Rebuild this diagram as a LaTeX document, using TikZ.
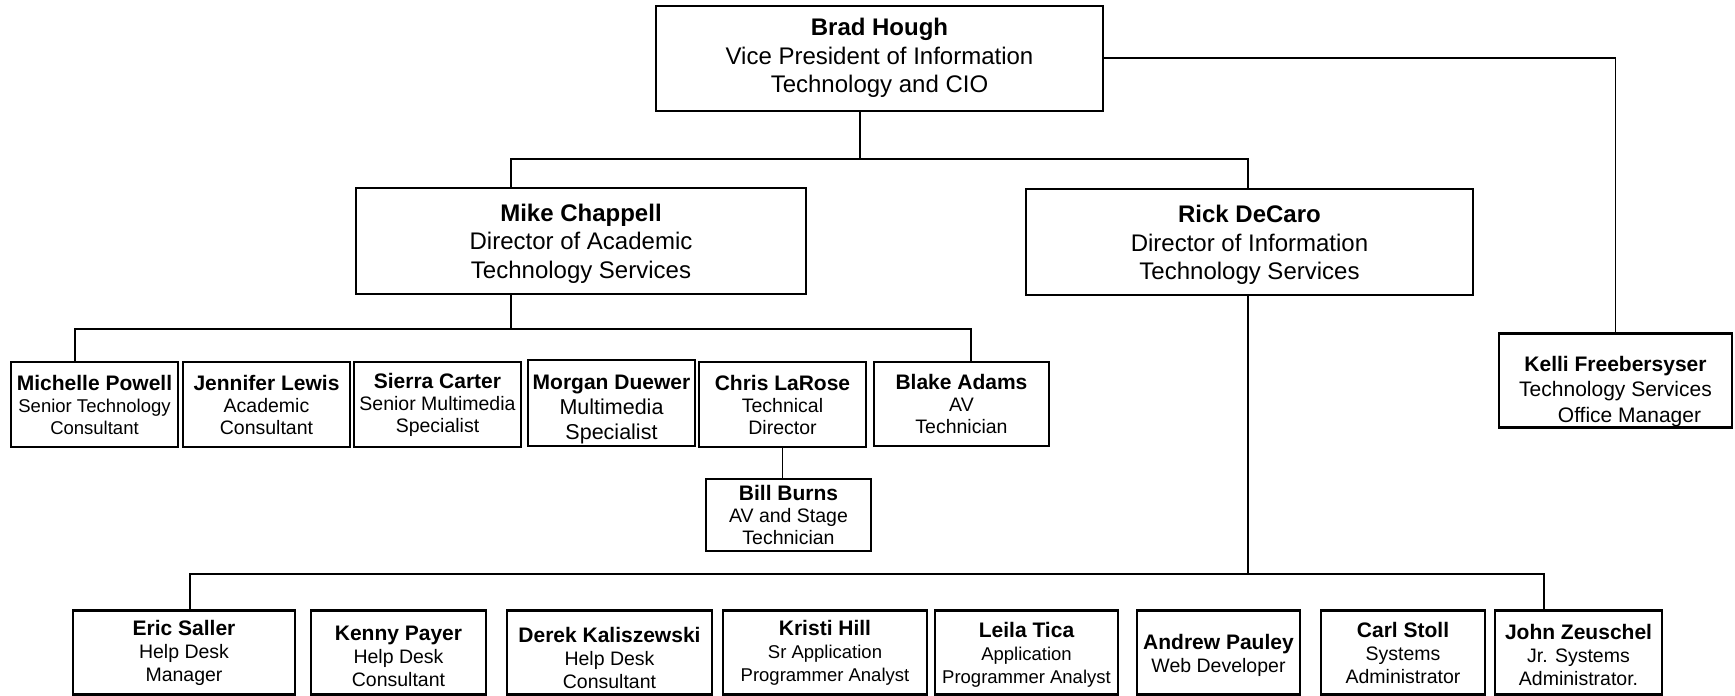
\documentclass[tikz,border=0pt]{standalone}
\usepackage{fontspec}
\setmainfont{Liberation Sans}
\newcommand{\staffname}[1]{{\fontsize{21}{22}\selectfont\bfseries #1}}
\newcommand{\padtop}[1]{\rule{0pt}{#1}}

\begin{document}
\begin{tikzpicture}[x=1pt, y=-1pt,
    headbox/.style={draw, line width=2pt, align=center, minimum height=106, inner sep=2pt, font=\fontsize{24}{28.5}\selectfont},
    staffbox/.style={draw, line width=2.6pt, align=center, minimum height=85, inner sep=1pt, font=\fontsize{19.5}{22}\selectfont},
    lowbox/.style={staffbox, minimum height=84, font=\fontsize{19.5}{23}\selectfont},
    link/.style={line width=1.6pt}]
    \useasboundingbox (0,0) rectangle (1735,696);

    % Top of the chart
    \node[headbox, minimum width=447, minimum height=105] (brad) at (879.5,58) {\textbf{Brad Hough}\\Vice President of Information\\Technology and CIO};
    \node[headbox, minimum width=450] (mike) at (581,241) {\padtop{22pt}\textbf{Mike Chappell}\\Director of Academic\\Technology Services};
    \node[headbox, minimum width=447] (rick) at (1249.5,241.5) {\padtop{24pt}\textbf{Rick DeCaro}\\Director of Information\\Technology Services};
    \node[staffbox, minimum width=233, minimum height=93, font=\fontsize{21}{25.4}\selectfont] (kelli) at (1615.5,380.5) {\padtop{37pt}\staffname{Kelli Freebersyser}\\Technology Services\\\hspace*{28pt}Office Manager};

    % Academic technology services
    \node[staffbox, minimum width=167, font=\fontsize{18.5}{22}\selectfont] (michelle) at (94.5,404.5) {\staffname{Michelle Powell}\\Senior Technology\\Consultant};
    \node[staffbox, minimum width=167] (jennifer) at (266.5,404.5) {\staffname{Jennifer Lewis}\\Academic\\Consultant};
    \node[staffbox, minimum width=167] (sierra) at (437.5,404.5) {\staffname{Sierra Carter}\\Senior Multimedia\\Specialist};
    \node[staffbox, minimum width=167, minimum height=86, font=\fontsize{21.5}{25}\selectfont] (morgan) at (611.5,403) {\padtop{28pt}\staffname{Morgan Duewer}\\Multimedia\\Specialist};
    \node[staffbox, minimum width=167] (chris) at (782.5,404.5) {\staffname{Chris LaRose}\\Technical\\Director};
    \node[staffbox, minimum width=175, minimum height=84] (blake) at (961.5,404) {\staffname{Blake Adams}\\AV\\Technician};
    \node[staffbox, minimum width=165, minimum height=72, font=\fontsize{19.5}{21.6}\selectfont] (bill) at (788.5,515) {\staffname{Bill Burns}\\AV and Stage\\Technician};

    % Information technology services
    \node[lowbox, minimum width=222] (eric) at (184,652.5) {\staffname{Eric Saller}\\Help Desk\\Manager};
    \node[lowbox, minimum width=175] (kenny) at (398.5,652.5) {\padtop{22pt}\staffname{Kenny Payer}\\Help Desk\\Consultant};
    \node[lowbox, minimum width=205] (derek) at (609.5,652.5) {\padtop{27pt}\staffname{Derek Kaliszewski}\\Help Desk\\Consultant};
    \node[lowbox, minimum width=204, font=\fontsize{18.5}{23}\selectfont] (kristi) at (825,652.5) {\staffname{Kristi Hill}\\Sr Application\\Programmer Analyst};
    \node[lowbox, minimum width=183, font=\fontsize{18.5}{23}\selectfont] (leila) at (1026.5,652.5) {\padtop{19pt}\staffname{Leila Tica}\\Application\\Programmer Analyst};
    \node[lowbox, minimum width=163] (andrew) at (1218.5,652.5) {\padtop{22pt}\staffname{Andrew Pauley}\\Web Developer};
    \node[lowbox, minimum width=164] (carl) at (1403,652.5) {\staffname{Carl Stoll}\\Systems\\Administrator};
    \node[lowbox, minimum width=167] (john) at (1578.5,652.5) {\padtop{21pt}\staffname{John Zeuschel}\\Jr. Systems\\Administrator.};

    % Joints of the lines
    \coordinate (vp) at (860,159);
    \coordinate (vpl) at (511,159);
    \coordinate (vpr) at (1248,159);
    \coordinate (ats) at (511,329);
    \coordinate (atsl) at (75,329);
    \coordinate (atsr) at (971,329);
    \coordinate (its) at (1248,574);
    \coordinate (itsl) at (190,574);
    \coordinate (itsr) at (1544,574);

    % Lines
    \draw[link] (brad.south -| vp) -- (vp);
    \draw[link] (mike.north -| vpl) -- (vpl) -- (vpr) -- (rick.north -| vpr);
    \draw[link] (brad.east) -| (kelli.north);
    \draw[link] (mike.south -| ats) -- (ats);
    \draw[link] (michelle.north -| atsl) -- (atsl) -- (atsr) -- (blake.north -| atsr);
    \draw[link] (chris.south) -- (chris.south |- bill.north);
    \draw[link] (rick.south -| its) -- (its);
    \draw[link] (eric.north -| itsl) -- (itsl) -- (itsr) -- (john.north -| itsr);
\end{tikzpicture}
\end{document}
